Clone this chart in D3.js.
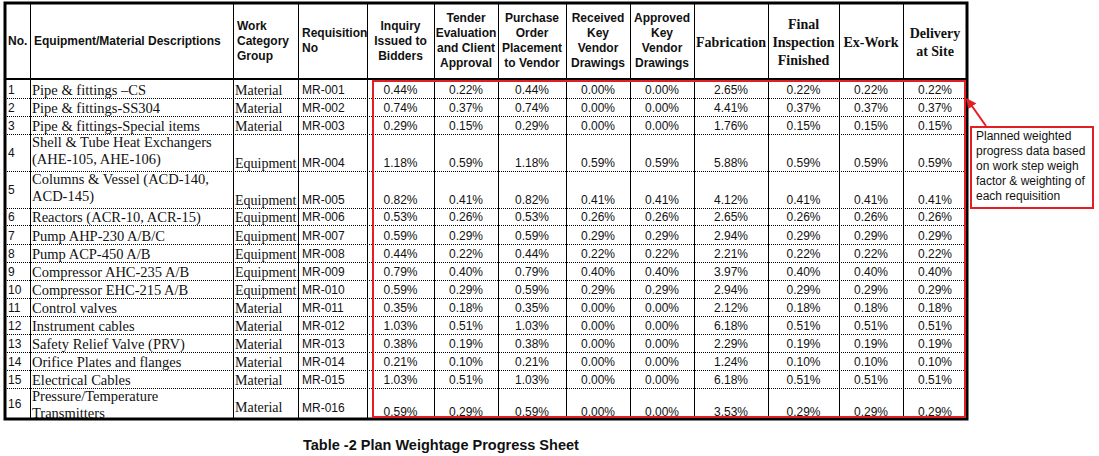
<!DOCTYPE html>
<html>
<head>
<meta charset="utf-8">
<script src="https://cdn.jsdelivr.net/npm/d3@7"></script>
<style>
  html, body { margin: 0; padding: 0; background: #fff; }
  svg { display: block; }
</style>
</head>
<body>
<div id="chart"></div>
<script>
// ---------------- DATA ----------------
const rowNumbers = [1,2,3,4,5,6,7,8,9,10,11,12,13,14,15,16];
const descriptions = [
  ["Pipe & fittings \u2013CS"],
  ["Pipe & fittings-SS304"],
  ["Pipe & fittings-Special items"],
  ["Shell & Tube Heat Exchangers", "(AHE-105, AHE-106)"],
  ["Columns & Vessel (ACD-140,", "ACD-145)"],
  ["Reactors (ACR-10, ACR-15)"],
  ["Pump AHP-230 A/B/C"],
  ["Pump ACP-450 A/B"],
  ["Compressor AHC-235 A/B"],
  ["Compressor EHC-215 A/B"],
  ["Control valves"],
  ["Instrument cables"],
  ["Safety Relief Valve (PRV)"],
  ["Orifice Plates and flanges"],
  ["Electrical Cables"],
  ["Pressure/Temperature", "Transmitters"]
];
const categories = ["Material","Material","Material","Equipment","Equipment","Equipment","Equipment","Equipment","Equipment","Equipment","Material","Material","Material","Material","Material","Material"];
const requisitions = ["MR-001","MR-002","MR-003","MR-004","MR-005","MR-006","MR-007","MR-008","MR-009","MR-010","MR-011","MR-012","MR-013","MR-014","MR-015","MR-016"];

const inquiry      = [0.44,0.74,0.29,1.18,0.82,0.53,0.59,0.44,0.79,0.59,0.35,1.03,0.38,0.21,1.03,0.59];
const tender       = [0.22,0.37,0.15,0.59,0.41,0.26,0.29,0.22,0.40,0.29,0.18,0.51,0.19,0.10,0.51,0.29];
const purchase     = [0.44,0.74,0.29,1.18,0.82,0.53,0.59,0.44,0.79,0.59,0.35,1.03,0.38,0.21,1.03,0.59];
const received     = [0.00,0.00,0.00,0.59,0.41,0.26,0.29,0.22,0.40,0.29,0.00,0.00,0.00,0.00,0.00,0.00];
const approved     = [0.00,0.00,0.00,0.59,0.41,0.26,0.29,0.22,0.40,0.29,0.00,0.00,0.00,0.00,0.00,0.00];
const fabrication  = [2.65,4.41,1.76,5.88,4.12,2.65,2.94,2.21,3.97,2.94,2.12,6.18,2.29,1.24,6.18,3.53];
const finalInsp    = [0.22,0.37,0.15,0.59,0.41,0.26,0.29,0.22,0.40,0.29,0.18,0.51,0.19,0.10,0.51,0.29];
const exWork       = [0.22,0.37,0.15,0.59,0.41,0.26,0.29,0.22,0.40,0.29,0.18,0.51,0.19,0.10,0.51,0.29];
const delivery     = [0.22,0.37,0.15,0.59,0.41,0.26,0.29,0.22,0.40,0.29,0.18,0.51,0.19,0.10,0.51,0.29];

const headerLabels = [
  ["No."],
  ["Equipment/Material Descriptions"],
  ["Work","Category","Group"],
  ["Requisition","No"],
  ["Inquiry","Issued to","Bidders"],
  ["Tender","Evaluation","and Client","Approval"],
  ["Purchase","Order","Placement","to Vendor"],
  ["Received","Key","Vendor","Drawings"],
  ["Approved","Key","Vendor","Drawings"],
  ["Fabrication"],
  ["Final","Inspection","Finished"],
  ["Ex-Work"],
  ["Delivery","at Site"]
];
const annotationLines = ["Planned weighted","progress data based","on work step weigh","factor & weighting of","each requisition"];
const captionText = "Table -2 Plan Weightage Progress Sheet";

// ---------------- LAYOUT ----------------
const W = 1099, H = 456;
const colKeys = d3.range(headerLabels.length);
const colEdges = [5,30,233,298,367,434,498,566,630,694,768,839,903,967];
const xLeft = d3.scaleOrdinal().domain(colKeys).range(colEdges.slice(0,-1));
const xRight = d3.scaleOrdinal().domain(colKeys).range(colEdges.slice(1));
const xMid = k => (xLeft(k) + xRight(k)) / 2;

const rowHeights = [18,18,18,37,37,17,19,18,18,18,18,18,18,18,18,30];
const bodyTop = 80, tableTop = 3, headerBottom = 79;
const tops = [bodyTop, ...Array.from(d3.cumsum(rowHeights)).map(v => bodyTop + v)];
const yTop = d3.scaleOrdinal().domain(d3.range(rowNumbers.length)).range(tops.slice(0,-1));
const yBot = d3.scaleOrdinal().domain(d3.range(rowNumbers.length)).range(tops.slice(1));
const tableBottom = 420;

const fmt = v => d3.format(".2f")(v) + "%";
const stepSeries = [inquiry, tender, purchase, received, approved, fabrication, finalInsp, exWork, delivery];

const SANS = "'Liberation Sans', Arial, sans-serif";
const SERIF = "'Liberation Serif', 'Times New Roman', serif";
const RED = "#e31e24";

const svg = d3.select("#chart").append("svg").attr("width", W).attr("height", H);
svg.append("rect").attr("width", W).attr("height", H).attr("fill", "#fff");

const defs = svg.append("defs");
defs.append("clipPath").attr("id", "tclip").append("rect")
  .attr("x", 0).attr("y", 0).attr("width", 968).attr("height", 419);
defs.append("marker").attr("id", "arrow").attr("viewBox", "0 0 10 10")
  .attr("refX", 9).attr("refY", 5).attr("markerWidth", 5).attr("markerHeight", 5)
  .attr("orient", "auto").append("path").attr("d", "M0,0 L10,5 L0,10 z").attr("fill", RED);

const g = svg.append("g").attr("clip-path", "url(#tclip)");

// ---------------- HEADER ----------------
const leftAligned = new Set([0,1,2,3]);
const headerCenter = 40.5;
const hdr = g.append("g");
colKeys.forEach(k => {
  const lines = headerLabels[k];
  const serif = k >= 9;
  const lh = serif ? 18 : 15;
  const fs = serif ? 14 : 12;
  const c = serif ? 41.5 : headerCenter;
  const x = leftAligned.has(k) ? xLeft(k) + (k === 0 ? 3 : 4) : xMid(k);
  const t = hdr.append("text")
    .attr("font-family", serif ? SERIF : SANS)
    .attr("font-weight", "bold").attr("font-size", fs).attr("fill", "#111")
    .attr("text-anchor", leftAligned.has(k) ? "start" : "middle");
  lines.forEach((ln, i) => {
    const y = c + (i - (lines.length - 1) / 2) * lh + fs * 0.36;
    t.append("tspan").attr("x", x).attr("y", y).text(ln);
  });
});

// ---------------- BODY ----------------
const body = g.append("g");
rowNumbers.forEach((n, i) => {
  const top = yTop(i), bot = yBot(i);
  const multi = rowHeights[i] > 20;
  const last = i === rowNumbers.length - 1;
  const sansBase = last ? bot - 2 : bot - 4;
  const serifBase = last ? bot - 6 : bot - 3;
  // No.
  body.append("text").attr("x", xLeft(0) + 3).attr("y", multi ? (top + bot) / 2 + 4.5 : bot - 4)
    .attr("font-family", SANS).attr("font-size", 12).attr("fill", "#111").text(n);
  // Description
  const d = descriptions[i];
  const dt = body.append("text").attr("font-family", SERIF).attr("font-size", 14.5).attr("fill", "#111");
  if (d.length === 1) {
    dt.append("tspan").attr("x", xLeft(1) + 2).attr("y", bot - 3).text(d[0]);
  } else {
    d.forEach((ln, j) => {
      dt.append("tspan").attr("x", xLeft(1) + 2).attr("y", top + 13 + j * 17).text(ln);
    });
  }
  // Category
  body.append("text").attr("x", xLeft(2) + 2).attr("y", serifBase)
    .attr("font-family", SERIF).attr("font-size", 14).attr("fill", "#111").text(categories[i]);
  // Requisition
  body.append("text").attr("x", xLeft(3) + 4).attr("y", last ? bot - 6 : bot - 4)
    .attr("font-family", SANS).attr("font-size", 12).attr("fill", "#111").text(requisitions[i]);
  // Values
  stepSeries.forEach((series, s) => {
    const k = s + 4;
    body.append("text").attr("x", xMid(k)).attr("y", sansBase)
      .attr("text-anchor", "middle")
      .attr("font-family", SANS).attr("font-size", 12).attr("fill", "#111")
      .text(fmt(series[i]));
  });
});

// ---------------- GRID ----------------
const grid = g.append("g");
tops.slice(1, -1).forEach(y => {
  grid.append("line").attr("x1", 5).attr("x2", 967).attr("y1", y + 0.5).attr("y2", y + 0.5)
    .attr("stroke", "#000").attr("stroke-width", 1).attr("stroke-dasharray", "1,1");
});
colEdges.slice(1, -1).forEach(x => {
  grid.append("line").attr("x1", x + 0.5).attr("x2", x + 0.5).attr("y1", tableTop).attr("y2", tableBottom)
    .attr("stroke", "#000").attr("stroke-width", 1);
});
grid.append("line").attr("x1", 5).attr("x2", 967).attr("y1", headerBottom).attr("y2", headerBottom)
  .attr("stroke", "#000").attr("stroke-width", 2);

// outer border
svg.append("rect").attr("x", 5).attr("y", tableTop).attr("width", 962).attr("height", tableBottom - tableTop - 1)
  .attr("fill", "none").attr("stroke", "#000").attr("stroke-width", 3);

// red highlight rect
svg.append("rect").attr("x", 373).attr("y", 81).attr("width", 592).attr("height", 336)
  .attr("fill", "none").attr("stroke", RED).attr("stroke-width", 2);

// annotation
svg.append("line").attr("x1", 986).attr("y1", 126).attr("x2", 967).attr("y2", 99)
  .attr("stroke", RED).attr("stroke-width", 2).attr("marker-end", "url(#arrow)");
svg.append("rect").attr("x", 971).attr("y", 127).attr("width", 122).attr("height", 81)
  .attr("fill", "#fff").attr("stroke", RED).attr("stroke-width", 2);
const at = svg.append("text").attr("font-family", SANS).attr("font-size", 12).attr("fill", "#111");
annotationLines.forEach((ln, i) => {
  at.append("tspan").attr("x", 976).attr("y", 140 + i * 15).text(ln);
});

// caption
svg.append("text").attr("x", 303).attr("y", 450)
  .attr("font-family", SANS).attr("font-weight", "bold").attr("font-size", 14.5).attr("fill", "#111")
  .text(captionText);
</script>
</body>
</html>
